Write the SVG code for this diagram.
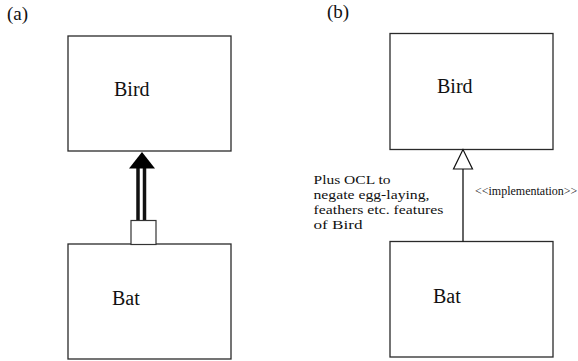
<svg xmlns="http://www.w3.org/2000/svg" width="578" height="361" viewBox="0 0 578 361">
  <style>
    .box { fill: #fff; stroke: #2a2a2a; stroke-width: 1.3; }
    .name { font-family: "Liberation Serif", "Times New Roman", serif; font-size: 20px; fill: #111; }
    .tag { font-family: "Liberation Serif", "Times New Roman", serif; font-size: 19px; fill: #111; }
    .note { font-family: "Liberation Serif", "Times New Roman", serif; font-size: 13px; fill: #111; }
    .stereo { font-family: "Liberation Serif", "Times New Roman", serif; font-size: 12px; fill: #111; }
    .wire { stroke: #111; fill: none; }
  </style>
  <rect width="578" height="361" fill="#fff"/>

  <!-- panel labels -->
  <text class="tag" x="7" y="20">(a)</text>
  <text class="tag" x="327" y="18">(b)</text>

  <!-- panel (a) -->
  <g id="a-bird">
    <rect class="box" x="68" y="36" width="163" height="115"/>
    <text class="name" x="114" y="96">Bird</text>
  </g>
  <g id="a-bat">
    <rect class="box" x="68" y="244" width="163" height="115"/>
    <text class="name" x="112" y="305">Bat</text>
  </g>

  <!-- panel (b) -->
  <g id="b-bird">
    <rect class="box" x="390" y="33.5" width="163" height="116"/>
    <text class="name" x="437" y="93">Bird</text>
  </g>
  <g id="b-bat">
    <rect class="box" x="390" y="241.5" width="163" height="115.5"/>
    <text class="name" x="433" y="303">Bat</text>
  </g>

  <!-- constraint note, set wide and tight -->
  <g id="b-note">
    <text class="note" x="313.5" y="183.5" textLength="77" lengthAdjust="spacingAndGlyphs">Plus OCL to</text>
    <text class="note" x="313.5" y="198.5" textLength="116" lengthAdjust="spacingAndGlyphs">negate egg-laying,</text>
    <text class="note" x="313.5" y="213.5" textLength="130" lengthAdjust="spacingAndGlyphs">feathers etc. features</text>
    <text class="note" x="313.5" y="228.5" textLength="49" lengthAdjust="spacingAndGlyphs">of Bird</text>
  </g>

  <g id="connectors">
    <!-- (a) double-shaft arrow with square tail -->
    <line class="wire" x1="138" y1="167" x2="138" y2="221" stroke-width="3.5"/>
    <line class="wire" x1="144.5" y1="167" x2="144.5" y2="221" stroke-width="3.5"/>
    <polygon points="142,152 129,168.5 155,168.5" fill="#000"/>
    <rect x="131" y="220.5" width="25" height="24" fill="#fff" stroke="#333" stroke-width="1.2"/>

    <!-- (b) realization arrow -->
    <line class="wire" x1="463" y1="169" x2="463" y2="241.5" stroke-width="1.3"/>
    <polygon points="463,149.5 453.5,169 472.5,169" fill="#fff" stroke="#111" stroke-width="1.2"/>
    <text class="stereo" x="475" y="195">&lt;&lt;implementation&gt;&gt;</text>
  </g>
</svg>
